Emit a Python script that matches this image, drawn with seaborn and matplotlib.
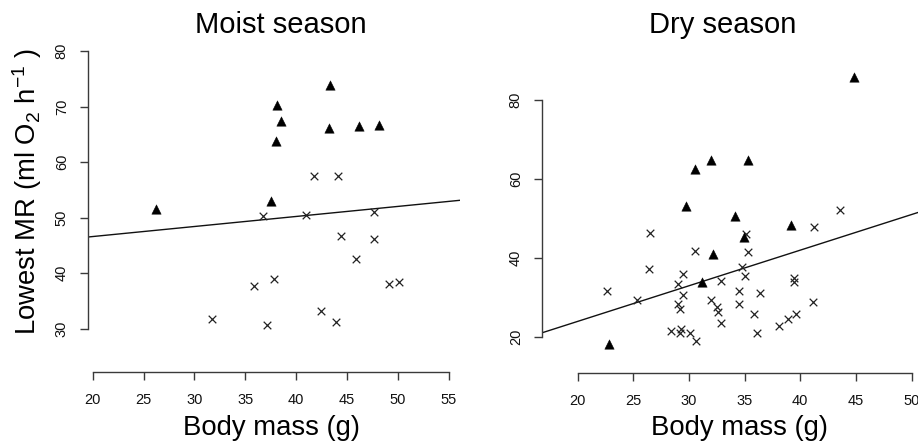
import numpy as np
import pandas as pd
import matplotlib
matplotlib.use("Agg")
import matplotlib.pyplot as plt
import seaborn as sns

# ---------------- data ----------------
moist_tri_x = [26.2, 37.5, 38.0, 38.1, 38.5, 43.2, 43.3, 46.2, 48.1]
moist_tri_y = [51.5, 52.9, 63.7, 70.3, 67.4, 66.1, 73.9, 66.5, 66.7]
moist_x_x = [31.7, 35.8, 36.7, 37.1, 37.8, 41.0, 41.7, 42.4, 43.9, 44.1,
             44.4, 45.9, 47.6, 47.6, 49.1, 50.1]
moist_x_y = [31.8, 37.7, 50.3, 30.6, 39.0, 50.4, 57.5, 33.1, 31.2, 57.5,
             46.7, 42.6, 51.0, 46.1, 38.0, 38.4]
moist_intercept, moist_slope = 42.96, 0.181

dry_tri_x = [22.8, 29.7, 30.5, 31.2, 32.0, 32.2, 34.1, 34.9, 35.3, 39.2, 44.8]
dry_tri_y = [18.1, 53.0, 62.4, 33.9, 64.9, 41.0, 50.5, 45.2, 64.9, 48.2, 85.8]
dry_x_x = [22.6, 25.3, 26.5, 26.4, 28.4, 29.0, 29.0, 29.2, 29.2, 29.3,
           29.5, 29.5, 30.1, 30.5, 30.6, 32.0, 32.5, 32.6, 32.9, 32.9,
           34.5, 34.5, 34.8, 35.0, 35.1, 35.3, 35.8, 36.1, 36.4, 38.1,
           38.9, 39.4, 39.4, 39.6, 41.1, 41.2, 43.6]
dry_x_y = [31.7, 29.3, 46.2, 37.2, 21.5, 33.4, 28.4, 26.9, 21.0, 21.9,
           35.9, 30.5, 21.0, 41.8, 19.0, 29.3, 27.6, 26.3, 23.4, 34.2,
           31.7, 28.2, 37.7, 35.3, 46.0, 41.4, 25.7, 20.9, 31.1, 22.8,
           24.6, 34.9, 33.8, 25.7, 28.8, 47.7, 52.1]
dry_intercept, dry_slope = 5.81, 0.903

titles = ["Moist season", "Dry season"]
xlabel = "Body mass (g)"
ylabel = "Lowest MR (ml O$_2$ h$^{-1}$ )"
moist_xticks = [20, 25, 30, 35, 40, 45, 50, 55]
moist_yticks = [30, 40, 50, 60, 70, 80]
dry_xticks = [20, 25, 30, 35, 40, 45, 50]
dry_yticks = [20, 40, 60, 80]

# ---------------- style ----------------
sns.set_theme(style="white")
plt.rcParams["font.family"] = ["Liberation Sans", "DejaVu Sans"]
plt.rcParams["mathtext.fontset"] = "custom"
plt.rcParams["mathtext.rm"] = "Liberation Sans"
plt.rcParams["mathtext.it"] = "Liberation Sans"
plt.rcParams["mathtext.sf"] = "Liberation Sans"
plt.rcParams["text.color"] = "black"

W, H = 918, 444
fig = plt.figure(figsize=(W / 100, H / 100), dpi=100)
fig.patch.set_facecolor("white")


def px_axes(l, r, t, b):
    return fig.add_axes([l / W, 1 - b / H, (r - l) / W, (b - t) / H])


ax1 = px_axes(88.3, 460, 40, 372.3)
ax2 = px_axes(542.3, 918, 60, 372.7)

panels = [
    (ax1, moist_tri_x, moist_tri_y, moist_x_x, moist_x_y, moist_intercept, moist_slope,
     (19.57, 56.08), (22.13, 81.98), moist_xticks, moist_yticks),
    (ax2, dry_tri_x, dry_tri_y, dry_x_x, dry_x_y, dry_intercept, dry_slope,
     (16.82, 50.58), (10.86, 90.14), dry_xticks, dry_yticks),
]

axis_col = "#3a3a3a"
for ax, tx, ty, cx, cy, b0, b1, xl, yl, xt, yt in panels:
    ax.set_facecolor("white")
    df_t = pd.DataFrame({"mass": tx, "mr": ty})
    df_c = pd.DataFrame({"mass": cx, "mr": cy})
    sns.scatterplot(data=df_c, x="mass", y="mr", ax=ax, marker="x", s=30,
                    color="#222222", linewidth=0.9, clip_on=False, zorder=3)
    sns.scatterplot(data=df_t, x="mass", y="mr", ax=ax, marker="^", s=46,
                    color="black", edgecolor="black", linewidth=0.3, clip_on=False, zorder=4)
    ax.axline((0, b0), slope=b1, color="#111111", linewidth=1.0, zorder=2)
    ax.set_xlim(*xl)
    ax.set_ylim(*yl)
    ax.set_xticks(xt)
    ax.set_yticks(yt)
    ax.set_xlabel("")
    ax.set_ylabel("")
    for s in ["top", "right"]:
        ax.spines[s].set_visible(False)
    ax.spines["left"].set_bounds(yt[0], yt[-1])
    ax.spines["bottom"].set_bounds(xt[0], xt[-1])
    for s in ["left", "bottom"]:
        ax.spines[s].set_color(axis_col)
        ax.spines[s].set_linewidth(1.0)
    ax.tick_params(axis="both", direction="out", length=6, width=1.0,
                   color=axis_col, labelsize=10.5, labelcolor="#111111",
                   left=True, bottom=True)
    ax.tick_params(axis="x", pad=9)
    ax.tick_params(axis="y", pad=8)
    for lab in ax.get_yticklabels():
        lab.set_rotation(90)
        lab.set_va("center")

fig.text(280.8 / W, 1 - 33 / H, titles[0], ha="center", va="baseline", fontsize=21, color="black")
fig.text(722.3 / W, 1 - 33 / H, titles[1], ha="center", va="baseline", fontsize=21, color="black")
fig.text(271.3 / W, 1 - 435 / H, xlabel, ha="center", va="baseline", fontsize=19.8, color="black")
fig.text(739.2 / W, 1 - 435 / H, xlabel, ha="center", va="baseline", fontsize=19.8, color="black")
fig.text(27.5 / W, 1 - 191.5 / H, ylabel, ha="center", va="center", rotation=90,
         fontsize=19.8, color="black")

fig.savefig("out.png", dpi=100, facecolor="white")
